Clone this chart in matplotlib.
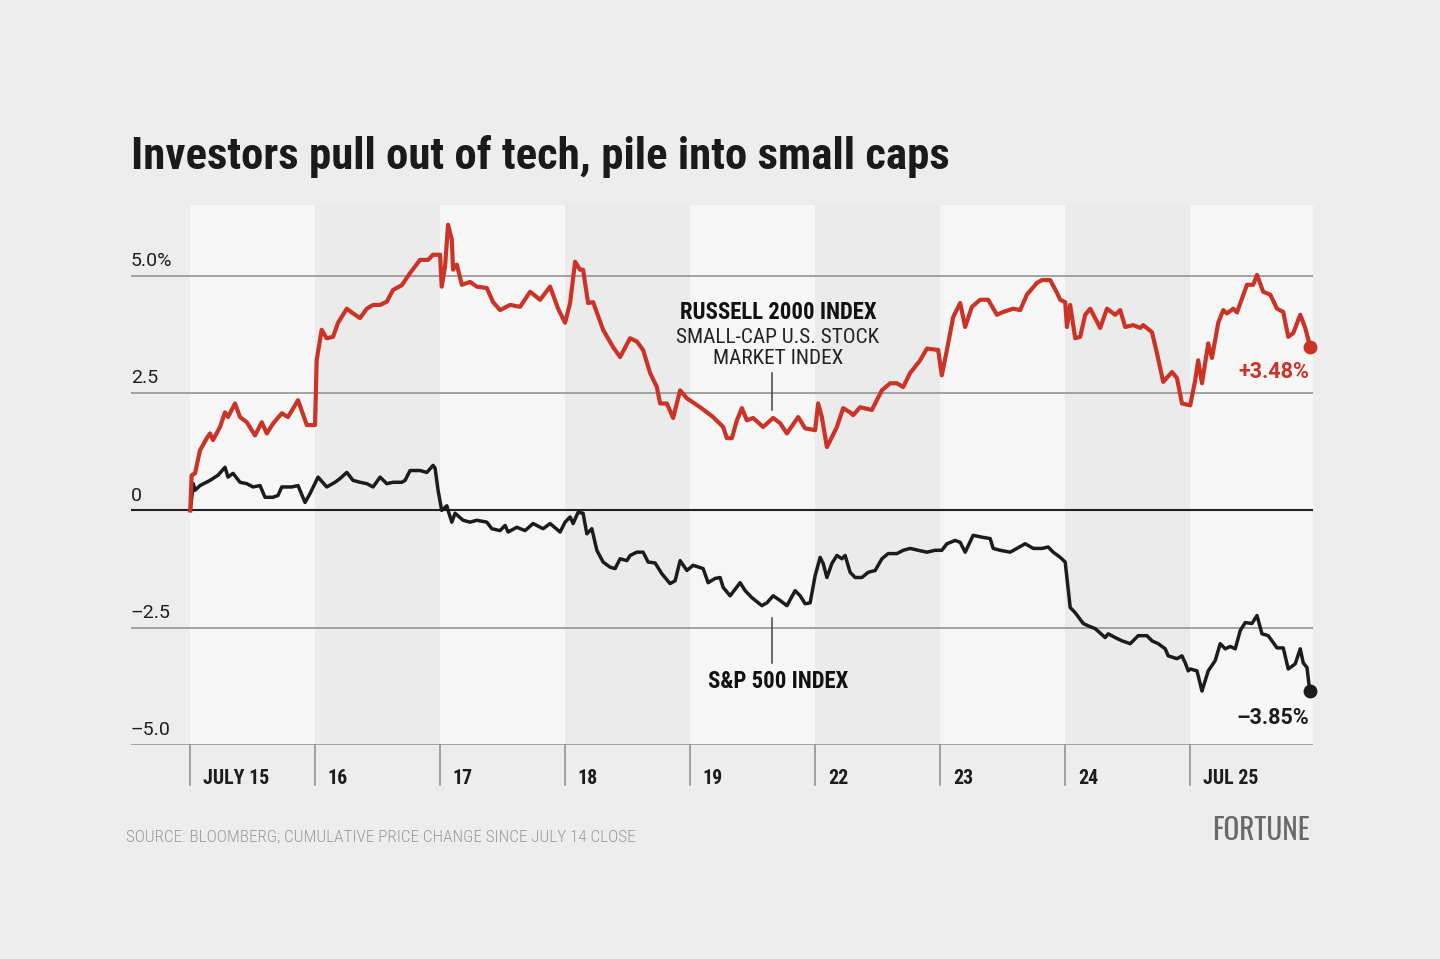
import matplotlib
matplotlib.use('Agg')
import matplotlib.pyplot as plt
from matplotlib import font_manager as fm
import matplotlib.transforms as mtransforms

# fonts: pick installed families in order of preference
names = {f.name for f in fm.fontManager.ttflist}
def pick(*cands):
    for c in cands:
        if c in names:
            return c
    return 'DejaVu Sans'

cond = pick('Roboto Condensed', 'Liberation Sans Narrow', 'Roboto')
plain = pick('Roboto', 'Liberation Sans')
logo = pick('Oswald', 'Bebas Neue', 'Barlow Condensed', 'Roboto Condensed')

# data: time in trading days since July 15 open, cumulative % change since July 14 close
days = ['JULY 15', '16', '17', '18', '19', '22', '23', '24', 'JUL 25']

russell_t = [0.000, 0.011, 0.038, 0.078, 0.132, 0.158, 0.182, 0.238, 0.278, 0.302, 0.358, 0.398,
             0.452, 0.518, 0.572, 0.612, 0.662, 0.732, 0.782, 0.862, 0.932, 0.998,
             1.011, 1.051, 1.091, 1.142, 1.182, 1.252, 1.302, 1.358, 1.412, 1.462, 1.518, 1.572,
             1.622, 1.692, 1.758, 1.838, 1.902, 1.942, 1.998,
             2.011, 2.038, 2.062, 2.092, 2.102, 2.132, 2.172, 2.238, 2.292, 2.372, 2.422, 2.478,
             2.558, 2.638, 2.718, 2.798, 2.878, 2.942, 2.998,
             3.038, 3.078, 3.118, 3.142, 3.182, 3.222, 3.302, 3.382, 3.438, 3.518, 3.572, 3.622,
             3.678, 3.732, 3.758, 3.812, 3.862, 3.918, 3.972,
             4.078, 4.182, 4.262, 4.292, 4.332, 4.372, 4.412, 4.452, 4.502, 4.582, 4.662, 4.718,
             4.772, 4.862, 4.918, 4.998,
             5.022, 5.052, 5.092, 5.132, 5.172, 5.222, 5.278, 5.302, 5.358, 5.452, 5.478, 5.532,
             5.598, 5.652, 5.702, 5.758, 5.838, 5.892, 5.982,
             6.011, 6.052, 6.102, 6.158, 6.198, 6.252, 6.318, 6.382, 6.452, 6.502, 6.582, 6.638,
             6.692, 6.772, 6.812, 6.878, 6.932, 6.958, 6.998,
             7.012, 7.038, 7.078, 7.118, 7.158, 7.198, 7.278, 7.332, 7.398, 7.438, 7.478, 7.542,
             7.598, 7.622, 7.692, 7.732, 7.782, 7.852, 7.892, 7.932, 7.998,
             8.038, 8.062, 8.092, 8.142, 8.172, 8.222, 8.262, 8.292, 8.342, 8.372, 8.452, 8.502,
             8.532, 8.582, 8.638, 8.692, 8.742, 8.782, 8.822, 8.878, 8.918, 8.958]
russell_v = [0.00, 0.75, 0.79, 1.28, 1.54, 1.64, 1.50, 1.78, 2.09, 1.99, 2.28, 1.99,
             1.88, 1.60, 1.88, 1.64, 1.85, 2.07, 1.99, 2.35, 1.82, 1.82,
             3.20, 3.85, 3.67, 3.70, 4.00, 4.30, 4.20, 4.10, 4.30, 4.38, 4.38, 4.45,
             4.70, 4.80, 5.06, 5.34, 5.34, 5.45, 5.45,
             4.77, 5.20, 6.09, 5.77, 5.13, 5.24, 4.81, 4.87, 4.77, 4.74, 4.44, 4.27,
             4.38, 4.34, 4.66, 4.49, 4.77, 4.30, 4.00,
             4.42, 5.30, 5.13, 5.13, 4.42, 4.44, 3.85, 3.48, 3.27, 3.67, 3.60, 3.42,
             2.93, 2.63, 2.28, 2.28, 1.97, 2.56, 2.39,
             2.20, 1.99, 1.78, 1.54, 1.54, 1.92, 2.18, 1.92, 1.97, 1.78, 1.97, 1.86,
             1.64, 1.99, 1.75, 1.71,
             2.28, 1.99, 1.35, 1.56, 1.78, 2.18, 2.09, 2.03, 2.20, 2.14, 2.28, 2.56,
             2.71, 2.71, 2.63, 2.93, 3.20, 3.45, 3.42,
             2.88, 3.42, 4.12, 4.42, 3.91, 4.34, 4.49, 4.49, 4.17, 4.23, 4.30, 4.27,
             4.60, 4.85, 4.91, 4.91, 4.64, 4.49, 4.44,
             3.91, 4.38, 3.67, 3.70, 4.17, 4.30, 3.89, 4.30, 4.17, 4.27, 3.91, 3.95,
             3.89, 3.95, 3.80, 3.35, 2.74, 2.95, 2.82, 2.28, 2.24,
             2.78, 3.20, 2.71, 3.56, 3.25, 4.00, 4.27, 4.20, 4.30, 4.22, 4.81, 4.81,
             5.02, 4.66, 4.60, 4.30, 4.23, 3.70, 3.78, 4.17, 3.89, 3.48]

sp_t = [0.000, 0.024, 0.038, 0.078, 0.158, 0.222, 0.278, 0.302, 0.342, 0.398, 0.452, 0.502,
        0.558, 0.598, 0.662, 0.702, 0.732, 0.812, 0.862, 0.918, 0.958,
        1.022, 1.092, 1.158, 1.198, 1.252, 1.302, 1.358, 1.412, 1.462, 1.518, 1.572, 1.622,
        1.692, 1.718, 1.758, 1.838, 1.892, 1.942, 1.958, 1.982,
        2.011, 2.052, 2.062, 2.092, 2.118, 2.182, 2.238, 2.292, 2.372, 2.412, 2.478, 2.518,
        2.542, 2.612, 2.678, 2.742, 2.822, 2.878, 2.958, 2.998,
        3.038, 3.062, 3.102, 3.142, 3.172, 3.212, 3.252, 3.302, 3.358, 3.398, 3.438, 3.492,
        3.518, 3.572, 3.622, 3.662, 3.718, 3.772, 3.838, 3.878, 3.918, 3.972,
        4.022, 4.102, 4.142, 4.198, 4.238, 4.262, 4.318, 4.398, 4.438, 4.492, 4.572, 4.612,
        4.662, 4.718, 4.772, 4.838, 4.878, 4.918, 4.958,
        4.998, 5.038, 5.062, 5.092, 5.132, 5.172, 5.212, 5.238, 5.278, 5.318, 5.372, 5.422,
        5.478, 5.532, 5.582, 5.652, 5.702, 5.758, 5.822, 5.892, 5.958,
        6.011, 6.052, 6.118, 6.158, 6.198, 6.262, 6.332, 6.398, 6.422, 6.478, 6.558, 6.612,
        6.678, 6.742, 6.812, 6.862, 6.902, 6.958,
        6.998, 7.038, 7.078, 7.142, 7.182, 7.238, 7.318, 7.342, 7.398, 7.452, 7.518, 7.582,
        7.652, 7.692, 7.742, 7.798, 7.822, 7.892, 7.932, 7.958, 7.982,
        7.998, 8.052, 8.092, 8.142, 8.198, 8.238, 8.278, 8.318, 8.358, 8.398, 8.438, 8.492,
        8.532, 8.572, 8.622, 8.692, 8.742, 8.782, 8.838, 8.878, 8.902, 8.932, 8.954]
sp_v = [0.00, 0.57, 0.43, 0.53, 0.64, 0.75, 0.92, 0.71, 0.79, 0.60, 0.57, 0.50,
        0.53, 0.28, 0.28, 0.32, 0.50, 0.50, 0.53, 0.17, 0.36,
        0.71, 0.50, 0.60, 0.68, 0.81, 0.64, 0.60, 0.57, 0.50, 0.71, 0.57, 0.60,
        0.60, 0.64, 0.85, 0.85, 0.81, 0.96, 0.90, 0.43,
        0.00, 0.10, 0.00, -0.25, -0.06, -0.21, -0.25, -0.21, -0.25, -0.39, -0.43, -0.32,
        -0.46, -0.36, -0.43, -0.28, -0.39, -0.28, -0.46, -0.25,
        -0.14, -0.28, -0.04, -0.06, -0.50, -0.39, -0.85, -1.10, -1.21, -1.24, -1.03, -1.07,
        -0.96, -0.89, -0.89, -1.10, -1.12, -1.35, -1.56, -1.50, -1.07, -1.28,
        -1.17, -1.24, -1.54, -1.45, -1.43, -1.64, -1.82, -1.54, -1.71, -1.86, -2.03, -1.97,
        -1.82, -1.92, -2.03, -1.71, -1.82, -1.99, -1.97,
        -1.39, -1.00, -1.13, -1.43, -1.13, -0.96, -1.03, -0.96, -1.32, -1.43, -1.43, -1.32,
        -1.28, -1.03, -0.92, -0.92, -0.85, -0.81, -0.85, -0.89, -0.85,
        -0.85, -0.71, -0.64, -0.68, -0.89, -0.53, -0.57, -0.60, -0.81, -0.85, -0.89, -0.81,
        -0.71, -0.81, -0.81, -0.78, -0.89, -1.00,
        -1.10, -2.07, -2.18, -2.41, -2.46, -2.52, -2.71, -2.63, -2.71, -2.78, -2.84, -2.67,
        -2.67, -2.78, -2.84, -2.95, -3.10, -3.16, -3.10, -3.25, -3.42,
        -3.38, -3.42, -3.85, -3.42, -3.20, -2.84, -2.95, -2.90, -2.95, -2.56, -2.39, -2.41,
        -2.24, -2.63, -2.67, -2.93, -2.93, -3.38, -3.27, -2.95, -3.25, -3.35, -3.85]

yticks = [5.0, 2.5, 0, -2.5, -5.0]
ylabels = ['5.0%', '2.5', '0', '\u20132.5', '\u20135.0']

red = '#cc3327'
black = '#1c1c1c'
bg = '#ededed'

plt.rcParams['font.family'] = [cond, 'DejaVu Sans']

fig = plt.figure(figsize=(14.4, 9.59), dpi=100, facecolor=bg)
ax = fig.add_axes([131/1440, 1 - 745/959, (1313 - 131)/1440, (745 - 205)/959])
ax.set_facecolor(bg)
ax.set_xlim(-0.474, 8.98)
ax.set_ylim(-5.0, 6.51)
for s in ax.spines.values():
    s.set_visible(False)
ax.set_xticks([])
ax.set_yticks([])

# alternating day bands
for i in range(len(days)):
    ax.axvspan(i, min(i + 1, 8.98), color='#f6f6f6' if i % 2 == 0 else '#ebebeb', lw=0, zorder=0)

# horizontal gridlines + labels
for v, lab in zip(yticks, ylabels):
    if v == 0:
        ax.axhline(v, color='#222222', lw=1.5, zorder=1)
    else:
        ax.axhline(v, color='#8c8c8c', lw=1.1, zorder=1)
    ax.annotate(lab, xy=(0, v), xycoords=('axes fraction', 'data'), xytext=(0, 7),
                textcoords='offset points', ha='left', va='baseline',
                fontsize=14, fontweight='normal', family=[plain, 'DejaVu Sans'], color='#1e1e1e')

# day ticks below the axis
trans = mtransforms.blended_transform_factory(ax.transData, ax.transAxes)
for i, d in enumerate(days):
    ax.plot([i, i], [0, -40/540], color='#8c8c8c', lw=1.1, transform=trans, clip_on=False)
    ax.annotate(d, xy=(i, 0), xycoords=trans, xytext=(9, -28), textcoords='offset points',
                ha='left', va='baseline', fontsize=14.3, fontweight='bold', color='#1c1c1c')

ax.plot(sp_t, sp_v, color=black, lw=2.5, solid_joinstyle='round', zorder=3)
ax.plot(russell_t, russell_v, color=red, lw=3.0, solid_joinstyle='round', zorder=4)
ax.plot(sp_t[-1], sp_v[-1], 'o', color=black, ms=9, zorder=5, clip_on=False)
ax.plot(russell_t[-1], russell_v[-1], 'o', color=red, ms=9, zorder=5, clip_on=False)

# labels
ax.text(4.70, 4.08, 'RUSSELL 2000 INDEX', ha='center', va='baseline', fontsize=16.4,
        fontweight='bold', color='#111111')
ax.text(4.70, 3.57, 'SMALL-CAP U.S. STOCK', ha='center', va='baseline', fontsize=15.3,
        color='#222222')
ax.text(4.70, 3.12, 'MARKET INDEX', ha='center', va='baseline', fontsize=15.3, color='#222222')
ax.plot([4.653, 4.653], [2.93, 2.14], color='#444444', lw=1.1, zorder=2)

ax.text(4.70, -3.79, 'S&P 500 INDEX', ha='center', va='baseline', fontsize=16.4,
        fontweight='bold', color='#111111')
ax.plot([4.653, 4.653], [-2.29, -3.25], color='#444444', lw=1.1, zorder=2)

ax.text(8.952, 2.82, '+%.2f%%' % russell_v[-1], ha='right', va='baseline', fontsize=15.5,
        fontweight='bold', family=[plain, 'DejaVu Sans'], color=red)
ax.text(8.952, -4.55, '\u2013%.2f%%' % abs(sp_v[-1]), ha='right', va='baseline', fontsize=15.5,
        fontweight='bold', family=[plain, 'DejaVu Sans'], color=black)

fig.text(131/1440, 1 - 169/959, 'Investors pull out of tech, pile into small caps',
         ha='left', va='baseline', fontsize=32.3, fontweight='bold', color='#1a1a1a')
fig.text(126/1440, 1 - 841/959, 'SOURCE: BLOOMBERG; CUMULATIVE PRICE CHANGE SINCE JULY 14 CLOSE',
         ha='left', va='baseline', fontsize=12.3, fontweight='light', color='#9a9a9a')
fig.text(1310/1440, 1 - 840/959, 'FORTUNE', ha='right', va='baseline', fontsize=21,
         fontweight='bold', family=[logo, 'DejaVu Sans'], color='#6a6a6a')

fig.savefig('out.png', dpi=100, facecolor=bg)
